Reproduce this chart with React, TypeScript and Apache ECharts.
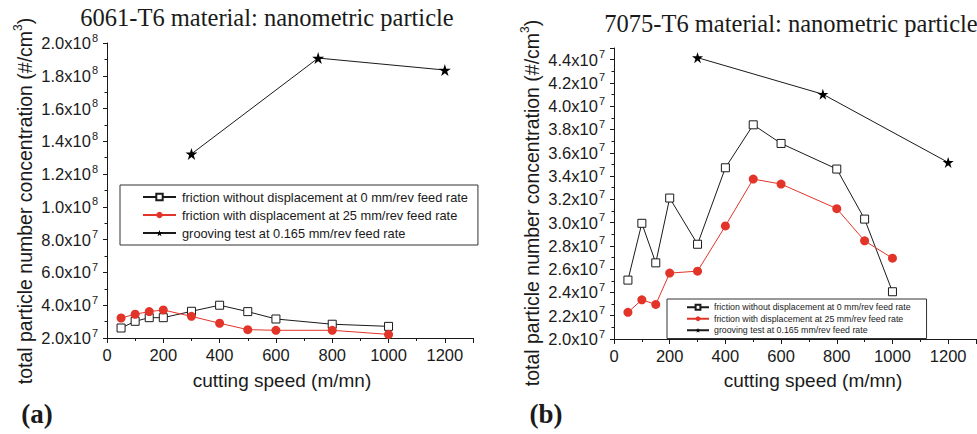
import React, { useEffect, useRef } from "react";
import * as echarts from "echarts";

// ---- data ----
const speedsA = [50, 100, 150, 200, 300, 400, 500, 600, 800, 1000];
const frictionNoDispA = [2.61e7, 3.02e7, 3.24e7, 3.24e7, 3.63e7, 4.0e7, 3.61e7, 3.16e7, 2.84e7, 2.71e7];
const frictionDispA = [3.22e7, 3.45e7, 3.61e7, 3.71e7, 3.32e7, 2.9e7, 2.51e7, 2.47e7, 2.47e7, 2.22e7];
const groovingSpeeds = [300, 750, 1200];
const groovingA = [1.323e8, 1.908e8, 1.835e8];

const speedsB = [50, 100, 150, 200, 300, 400, 500, 600, 800, 900, 1000];
const frictionNoDispB = [2.506e7, 2.994e7, 2.654e7, 3.211e7, 2.814e7, 3.471e7, 3.84e7, 3.68e7, 3.46e7, 3.03e7, 2.406e7];
const frictionDispB = [2.229e7, 2.337e7, 2.297e7, 2.566e7, 2.583e7, 2.971e7, 3.374e7, 3.331e7, 3.12e7, 2.843e7, 2.694e7];
const groovingB = [4.417e7, 4.103e7, 3.517e7];

const seriesNames = [
  "friction without displacement at 0 mm/rev feed rate",
  "friction with displacement at 25 mm/rev feed rate",
  "grooving test at 0.165 mm/rev feed rate",
];
const titles = ["6061-T6 material: nanometric particle", "7075-T6 material: nanometric particle"];
const xName = "cutting speed (m/mn)";
const panelLabels = ["(a)", "(b)"];

const STAR =
  "path://M50 0 L61.23 34.55 L97.55 34.55 L68.16 55.9 L79.39 90.45 L50 69.1 L20.61 90.45 L31.84 55.9 L2.45 34.55 L38.77 34.55 Z";

const SANS = "'Liberation Sans', Arial, Helvetica, sans-serif";
const SERIF = "'Liberation Serif', 'Times New Roman', serif";
const RED = "#e3342a";
const INK = "#1a1a1a";

const zip = (xs: number[], ys: number[]) => xs.map((x, i) => [x, ys[i]]);

const sciFmt = (v: number) => {
  const e = Math.floor(Math.log10(v) + 1e-9);
  const m = v / Math.pow(10, e);
  return `{m|${m.toFixed(1)}x10}{s|${e}}`;
};

const yLabelRich = {
  m: { fontSize: 16.5, fontFamily: SANS, color: INK, lineHeight: 22 },
  s: { fontSize: 11, fontFamily: SANS, color: INK, verticalAlign: "top", lineHeight: 22, padding: [0, 0, 0, 1] },
};

function makeXAxis(gridIndex: number) {
  return {
    type: "value",
    gridIndex,
    min: 0,
    max: 1300,
    interval: 200,
    axisLine: { lineStyle: { color: INK, width: 1 } },
    axisTick: { show: true, length: 5, lineStyle: { color: INK } },
    minorTick: { show: true, splitNumber: 2, length: 3, lineStyle: { color: INK } },
    splitLine: { show: false },
    axisLabel: {
      showMaxLabel: false,
      margin: 8,
      fontSize: 16.5,
      fontFamily: SANS,
      color: INK,
      formatter: (v: number) => String(v),
    },
  };
}

function makeYAxis(gridIndex: number, min: number, max: number, interval: number, showMax: boolean) {
  return {
    type: "value",
    gridIndex,
    min,
    max,
    interval,
    axisLine: { show: true, lineStyle: { color: INK, width: 1 } },
    axisTick: { show: true, length: 4, lineStyle: { color: INK } },
    minorTick: { show: true, splitNumber: 2, length: 2.5, lineStyle: { color: INK } },
    splitLine: { show: false },
    axisLabel: {
      showMaxLabel: showMax,
      margin: 9,
      formatter: sciFmt,
      rich: yLabelRich,
    },
  };
}

function makeSeries(idx: number, xs: number[], noDisp: number[], disp: number[], groove: number[], big: boolean) {
  return [
    {
      name: seriesNames[0],
      type: "line",
      xAxisIndex: idx,
      yAxisIndex: idx,
      data: zip(xs, noDisp),
      symbol: "rect",
      symbolSize: 8,
      lineStyle: { color: INK, width: 1 },
      itemStyle: { color: "#fff", borderColor: INK, borderWidth: 1 },
    },
    {
      name: seriesNames[1],
      type: "line",
      xAxisIndex: idx,
      yAxisIndex: idx,
      data: zip(xs, disp),
      symbol: "circle",
      symbolSize: 9,
      lineStyle: { color: RED, width: 1 },
      itemStyle: { color: RED, borderColor: RED, borderWidth: 0 },
    },
    {
      name: seriesNames[2],
      type: "line",
      xAxisIndex: idx,
      yAxisIndex: idx,
      data: zip(groovingSpeeds, groove),
      symbol: STAR,
      symbolSize: big ? 12 : 11,
      lineStyle: { color: INK, width: 1 },
      itemStyle: { color: "#000", borderWidth: 0 },
    },
  ];
}

function axisNameY(x: number, y: number) {
  return {
    type: "text",
    x,
    y,
    rotation: Math.PI / 2,
    style: {
      text: "{n|total particle number concentration (#/cm}{s|3}{n|)}",
      align: "center",
      verticalAlign: "middle",
      rich: {
        n: { fontSize: 19.5, fontFamily: SANS, fill: INK, lineHeight: 26 },
        s: { fontSize: 12, fontFamily: SANS, fill: INK, verticalAlign: "top", lineHeight: 26 },
      },
    },
  };
}

function plainText(text: string, x: number, y: number, font: any) {
  return {
    type: "text",
    x,
    y,
    style: { text, align: "center", verticalAlign: "middle", fill: INK, ...font },
  };
}

export default function App() {
  const ref = useRef<HTMLDivElement>(null);
  useEffect(() => {
    if (!ref.current) return;
    const chart = echarts.init(ref.current, undefined, { renderer: "svg" });
    chart.setOption({
      animation: false,
      backgroundColor: "#fff",
      grid: [
        { left: 107, top: 43, width: 366, height: 295 },
        { left: 614, top: 48, width: 362, height: 291 },
      ],
      xAxis: [makeXAxis(0), makeXAxis(1)],
      yAxis: [makeYAxis(0, 2e7, 2e8, 2e7, true), makeYAxis(1, 2e7, 4.5e7, 2e6, false)],
      legend: [
        {
          orient: "vertical",
          left: 120,
          top: 185,
          data: seriesNames,
          padding: [4, 10, 4, 22],
          itemGap: 2,
          itemWidth: 33,
          itemHeight: 8,
          borderColor: "#333",
          borderWidth: 1,
          textStyle: { fontSize: 12.8, fontFamily: SANS, color: INK, padding: [0, 0, 0, 1], lineHeight: 16 },
          selectedMode: false,
        },
        {
          orient: "vertical",
          left: 667,
          top: 299,
          data: seriesNames,
          padding: [3, 16, 3, 19],
          itemGap: 1,
          itemWidth: 22,
          itemHeight: 6,
          borderColor: "#333",
          borderWidth: 1,
          textStyle: { fontSize: 8.8, fontFamily: SANS, color: INK, lineHeight: 10.5 },
          selectedMode: false,
        },
      ],
      series: [
        ...makeSeries(0, speedsA, frictionNoDispA, frictionDispA, groovingA, true),
        ...makeSeries(1, speedsB, frictionNoDispB, frictionDispB, groovingB, false),
      ],
      graphic: [
        plainText(titles[0], 267, 17, { fontSize: 24.5, fontFamily: SERIF }),
        plainText(titles[1], 791, 23, { fontSize: 24.5, fontFamily: SERIF }),
        axisNameY(25, 201),
        axisNameY(532, 203),
        plainText(xName, 282, 380, { fontSize: 19, fontFamily: SANS }),
        plainText(xName, 813, 380, { fontSize: 19, fontFamily: SANS }),
        plainText(panelLabels[0], 37, 414, { fontSize: 27, fontFamily: SERIF, fontWeight: "bold" }),
        plainText(panelLabels[1], 546, 414, { fontSize: 27, fontFamily: SERIF, fontWeight: "bold" }),
      ],
    });
    return () => chart.dispose();
  }, []);
  return (
    <div
      ref={ref}
      style={{ position: "absolute", left: 0, top: 0, width: 977, height: 434 }}
    />
  );
}
